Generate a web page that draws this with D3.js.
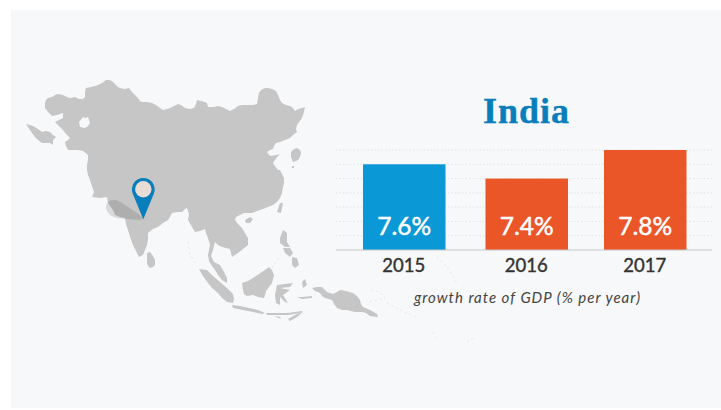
<!DOCTYPE html>
<html>
<head>
<meta charset="utf-8">
<script src="https://d3js.org/d3.v7.min.js"></script>
<style>
  html, body { margin: 0; padding: 0; background: #fff; }
  svg { display: block; }
  text { font-family: Lato, sans-serif; }
</style>
</head>
<body>
<svg id="chart"></svg>
<script>
const years = ['2015', '2016', '2017'];
const growth = [7.6, 7.4, 7.8];
const barLabels = ['7.6%', '7.4%', '7.8%'];
const barColors = ['#0a99d6', '#ea5628', '#ea5628'];
const gridValues = [6.6, 6.8, 7.0, 7.2, 7.4, 7.6, 7.8];

// map outlines
const mainland = [[45,103],[46,100],[48,98],[52,97],[55,95],[58,94],[63,95],[67,97],[70,98],[75,97],[79,99],[83,99],[85,97],[85,92],[86,88],[91,87],[95,86],[98,85],[102,83],[106,80],[109,80],[112,81],[115,84],[118,87],[120,88],[125,89],[129,88],[132,92],[135,95],[137,97],[140,101],[142,102],[147,102],[152,103],[156,105],[160,108],[163,110],[167,109],[170,108],[174,106],[178,104],[181,105],[185,108],[190,109],[194,108],[196,104],[197,100],[201,101],[205,102],[207,103],[208,107],[213,107],[218,106],[222,107],[226,109],[230,111],[234,109],[238,106],[242,105],[248,105],[253,105],[257,104],[258,98],[259,93],[261,90],[265,88],[268,88],[272,89],[276,91],[278,95],[280,100],[282,103],[286,105],[290,106],[292,107],[295,111],[298,109],[302,108],[305,107],[304,112],[302,118],[299,122],[297,125],[296,129],[297,132],[293,135],[290,138],[285,140],[280,142],[276,143],[274,146],[273,149],[270,150],[267,152],[269,155],[271,156],[276,155],[280,154],[277,157],[275,160],[273,163],[275,166],[278,170],[280,170],[282,174],[284,178],[284,183],[283,187],[282,193],[280,198],[277,202],[273,205],[268,207],[263,209],[257,211],[252,213],[248,213],[244,213],[240,215],[236,217],[235,220],[238,224],[242,228],[245,233],[248,238],[248,245],[243,249],[238,253],[232,257],[231,253],[230,249],[226,248],[222,247],[218,245],[215,242],[214,246],[213,250],[211,256],[214,262],[220,265],[223,270],[227,278],[227,283],[222,280],[218,275],[215,270],[212,266],[209,261],[208,255],[210,245],[208,238],[206,233],[205,229],[200,231],[195,232],[192,227],[188,220],[189,214],[187,208],[185,209],[182,212],[177,212],[172,213],[170,217],[168,220],[163,223],[158,227],[153,229],[148,233],[148,239],[147,245],[145,250],[143,255],[139,257],[136,251],[133,245],[130,237],[128,230],[126,224],[125,218],[120,217],[115,215],[113,210],[110,206],[108,203],[107,197],[100,198],[92,197],[94,192],[92,186],[90,180],[88,175],[87,170],[87,165],[88,160],[88,155],[83,151],[78,150],[73,150],[68,150],[66,146],[65,142],[68,140],[70,138],[66,134],[63,130],[59,126],[55,122],[59,120],[63,118],[63,113],[57,115],[52,116],[48,112],[45,108]];
const islands = [
  [[26,124],[30,125],[33,126],[38,129],[42,132],[46,131],[50,132],[53,135],[56,137],[53,140],[53,145],[50,143],[47,143],[42,143],[38,140],[35,137],[32,133],[30,130]],
  [[291,152],[294,149],[297,148],[300,150],[301,153],[300,157],[298,160],[296,161],[293,162],[291,157]],
  [[292,166],[294,166],[294,168],[292,168]],
  [[147,253],[150,252],[153,256],[155,260],[155,265],[153,267],[150,268],[148,266],[147,263]],
  [[245,220],[250,217],[253,219],[250,223],[246,223]],
  [[277,212],[279,206],[280,203],[283,203],[282,208],[281,213]],
  [[199,269],[207,270],[213,276],[220,282],[227,288],[233,294],[234,299],[233,303],[227,302],[222,298],[218,293],[212,288],[208,283],[203,276]],
  [[242,283],[248,281],[253,278],[259,274],[265,270],[269,267],[272,270],[274,275],[273,279],[272,283],[269,287],[266,291],[265,295],[264,298],[258,297],[253,295],[247,296],[244,294],[243,290]],
  [[277,285],[285,284],[293,283],[290,287],[280,288],[290,290],[283,295],[288,303],[285,302],[280,297],[280,305],[276,303],[275,295]],
  [[232,305],[240,306],[249,308],[258,310],[265,313],[262,314],[253,312],[243,310],[233,308]],
  [[266,313],[275,313],[287,313],[295,312],[302,311],[303,312],[295,314],[287,315],[277,315],[267,315]],
  [[288,319],[297,314],[303,312],[297,317],[290,321]],
  [[275,316],[280,317],[281,319],[276,317]],
  [[312,288],[317,287],[322,287],[325,290],[327,292],[333,294],[337,292],[340,290],[346,291],[353,293],[357,296],[360,300],[361,304],[363,307],[370,310],[377,314],[378,317],[370,316],[366,313],[362,312],[355,312],[351,311],[347,310],[342,310],[337,308],[334,304],[332,300],[325,298],[322,296],[320,293],[315,291]],
  [[302,282],[305,279],[307,285],[303,288]],
  [[297,297],[302,297],[312,296],[312,298],[302,299]],
  [[280,238],[283,230],[287,233],[287,242],[290,247],[285,247],[280,243]],
  [[283,248],[290,248],[293,253],[290,257],[285,253]],
  [[292,257],[297,258],[299,265],[295,268],[292,265]]
];
const lakes = [
  [[79,122],[83,117],[85,118],[88,117],[90,123],[88,126],[85,128],[80,127]],
  [[63,133],[69,137],[65,138]]
];
const faintIslands = [
  [[188,242],[190,254],[195,263]],
  [[272,268],[281,255]],
  [[370,302],[385,298],[380,292],[372,290]],
  [[387,303],[400,310],[418,318]],
  [[433,332],[437,340]],
  [[467,342],[475,337]],
  [[437,257],[448,268],[457,283]]
];
const pinShadow = [[143,219],[128,207],[115,200],[108,202],[106,208],[110,215],[117,218],[128,219]];
const pinAt = [143.3, 189.3];

const width = 721, height = 410;
const bgColor = '#f7f8fa';
const svg = d3.select('#chart').attr('width', width).attr('height', height);

svg.append('rect')
  .attr('x', 11).attr('y', 10)
  .attr('width', 710).attr('height', 398)
  .attr('fill', bgColor);

// slight softness, the reference is a scaled raster
const soft = svg.append('defs').append('filter').attr('id', 'soft');
soft.append('feGaussianBlur').attr('stdDeviation', 0.5);

// map
const outline = d3.line().curve(d3.curveLinearClosed);
const openLine = d3.line();
const mapG = svg.append('g').attr('filter', 'url(#soft)');

mapG.append('g').selectAll('path')
  .data([mainland].concat(islands))
  .join('path')
  .attr('d', outline)
  .attr('fill', '#c6c6c6');

mapG.append('g').selectAll('path')
  .data(lakes)
  .join('path')
  .attr('d', outline)
  .attr('fill', bgColor);

mapG.append('g').selectAll('path')
  .data(faintIslands)
  .join('path')
  .attr('d', openLine)
  .attr('fill', 'none')
  .attr('stroke', '#e4e5e7')
  .attr('stroke-width', 1)
  .attr('stroke-dasharray', '2 3');

// pin
mapG.append('path')
  .attr('d', d3.line().curve(d3.curveCatmullRomClosed.alpha(0.5))(pinShadow))
  .attr('fill', '#000')
  .attr('opacity', 0.12);

const pinR = 11.4, pinH = 30;
const tipAngle = Math.acos(pinR / pinH);
const pinPath = d3.path();
pinPath.arc(0, 0, pinR, Math.PI / 2 + tipAngle, Math.PI / 2 - tipAngle);
pinPath.lineTo(0, pinH);
pinPath.closePath();

const pin = svg.append('g').attr('transform', `translate(${pinAt[0]},${pinAt[1]})`);
pin.append('path').attr('d', pinPath.toString()).attr('fill', '#0a7ebb');
pin.append('circle').attr('r', 8.2).attr('fill', '#e9dcd5');

// bars
const xScale = d3.scaleOrdinal().domain(years).range([363, 485.5, 604]);
const barWidth = 82.5;
const yScale = d3.scaleLinear().domain([6.4, 7.8]).range([250, 150]);

svg.append('g').selectAll('line')
  .data(gridValues)
  .join('line')
  .attr('x1', 336).attr('x2', 712)
  .attr('y1', d => yScale(d)).attr('y2', d => yScale(d))
  .attr('stroke', '#e2e3e5')
  .attr('stroke-dasharray', '1.5 2');

svg.append('g').selectAll('rect')
  .data(years)
  .join('rect')
  .attr('x', d => xScale(d))
  .attr('y', (d, i) => yScale(growth[i]))
  .attr('width', barWidth)
  .attr('height', (d, i) => yScale(6.4) - yScale(growth[i]))
  .attr('fill', (d, i) => barColors[i]);

svg.append('line')
  .attr('x1', 336).attr('x2', 712)
  .attr('y1', yScale(6.4)).attr('y2', yScale(6.4))
  .attr('stroke', '#c4c5c7')
  .attr('stroke-width', 1);

svg.append('g').selectAll('text')
  .data(barLabels)
  .join('text')
  .attr('x', (d, i) => xScale(years[i]) + barWidth / 2)
  .attr('y', 235)
  .attr('text-anchor', 'middle')
  .attr('font-size', 24.5)
  .attr('fill', '#fff')
  .attr('stroke', '#fff')
  .attr('stroke-width', 0.5)
  .text(d => d);

svg.append('g').selectAll('text')
  .data(years)
  .join('text')
  .attr('x', d => xScale(d) + barWidth / 2 - 0.5)
  .attr('y', 272)
  .attr('text-anchor', 'middle')
  .attr('font-size', 18.5)
  .attr('fill', '#333')
  .attr('stroke', '#333')
  .attr('stroke-width', 0.4)
  .text(d => d);

svg.append('text')
  .attr('x', 527.5)
  .attr('y', 303)
  .attr('text-anchor', 'middle')
  .attr('font-size', 15)
  .attr('font-style', 'italic')
  .attr('letter-spacing', 1)
  .attr('fill', '#444')
  .text('growth rate of GDP (% per year)');

svg.append('text')
  .attr('x', 526.5)
  .attr('y', 123)
  .attr('text-anchor', 'middle')
  .attr('font-size', 36)
  .attr('font-weight', 700)
  .attr('letter-spacing', 1)
  .attr('fill', '#0a7ebb')
  .attr('stroke', '#0a7ebb')
  .attr('stroke-width', 0.4)
  .style('font-family', '"Liberation Serif", serif')
  .text('India');
</script>
</body>
</html>
